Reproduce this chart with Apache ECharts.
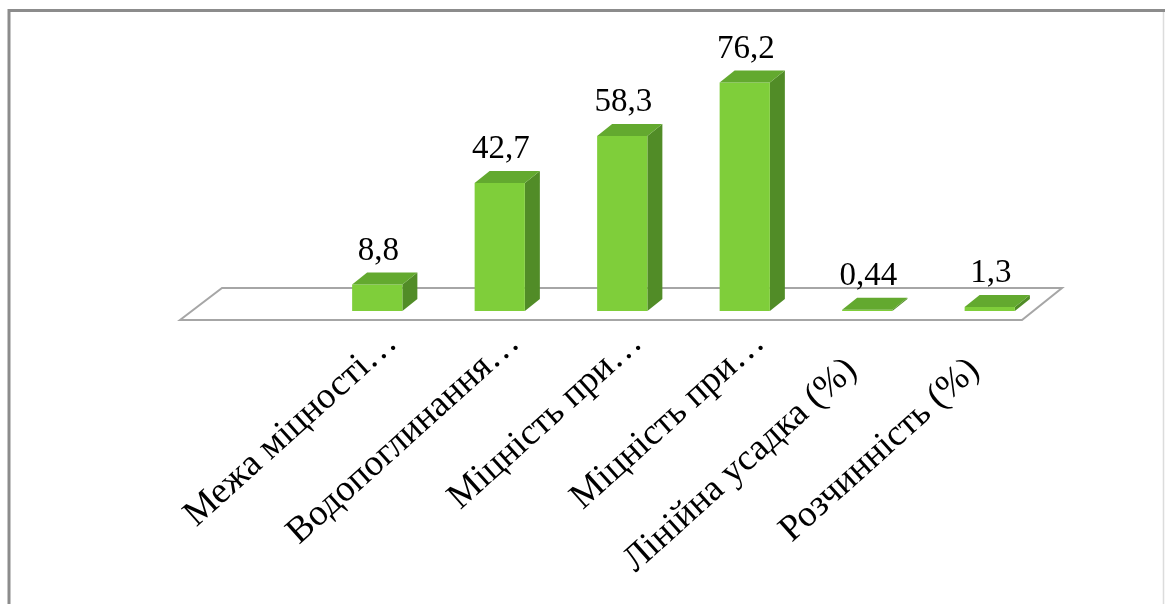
<!DOCTYPE html>
<html>
<head>
<meta charset="utf-8">
<script src="https://cdn.jsdelivr.net/npm/echarts@6/dist/echarts.min.js"></script>
<style>
  html, body { margin: 0; padding: 0; background: #fff; }
  #chart { width: 1165px; height: 604px; }
</style>
</head>
<body>
<div id="chart"></div>
<script>
// Category names as shown under the bars
const categories = [
  'Межа міцності…',
  'Водопоглинання…',
  'Міцність при…',
  'Міцність при…',
  'Лінійна усадка (%)',
  'Розчинність (%)'
];
// Values for each category
const values = [8.8, 42.7, 58.3, 76.2, 0.44, 1.3];

const FRONT = '#7fce3a';
const TOP = '#63a92f';
const SIDE = '#518c27';
const DEPTH_X = 15;
const DEPTH_Y = -12;

function fmt(v) {
  return String(v).replace('.', ',');
}

const chart = echarts.init(document.getElementById('chart'), null, { renderer: 'canvas' });

function renderBar(params, api) {
  const idx = api.value(0);
  const v = api.value(1);
  const base = api.coord([idx, 0]);
  const top = api.coord([idx, v]);
  const w = api.size([1, 0])[0] * 0.41;
  const cx = base[0];
  const x0 = cx - w / 2, x1 = cx + w / 2;
  const yb = base[1], yt = top[1];
  return {
    type: 'group',
    children: [
      {
        type: 'polygon',
        shape: { points: [[x1, yb], [x1 + DEPTH_X, yb + DEPTH_Y], [x1 + DEPTH_X, yt + DEPTH_Y], [x1, yt]] },
        style: { fill: SIDE }
      },
      {
        type: 'rect',
        shape: { x: x0, y: yt, width: w, height: yb - yt },
        style: { fill: FRONT }
      },
      {
        type: 'polygon',
        shape: { points: [[x0, yt], [x0 + DEPTH_X, yt + DEPTH_Y], [x1 + DEPTH_X, yt + DEPTH_Y], [x1, yt]] },
        style: { fill: TOP }
      },
      {
        type: 'text',
        style: {
          text: fmt(v),
          x: cx + 1,
          y: yt + DEPTH_Y - 5,
          align: 'center',
          verticalAlign: 'bottom',
          fontFamily: 'Liberation Serif',
          fontSize: 33,
          fill: '#000'
        }
      }
    ]
  };
}

// Full-length names sit a little lower along their slant than the shortened ones
const axisData = categories.map(c => ({
  value: c,
  textStyle: {
    align: 'right',
    verticalAlign: 'top',
    padding: c.endsWith('…') ? [4, 0, 0, 0] : [4, 41, 0, 0]
  }
}));

const option = {
  animation: false,
  backgroundColor: '#fff',
  grid: { left: 316, right: 114, top: 11, bottom: 293 },
  xAxis: {
    type: 'category',
    data: axisData,
    axisLine: { show: false },
    axisTick: { show: false },
    axisLabel: {
      interval: 0,
      rotate: 42,
      align: 'right',
      verticalAlign: 'top',
      margin: 10,
      fontFamily: 'Liberation Serif',
      fontSize: 37,
      color: '#000',
      hideOverlap: false
    }
  },
  yAxis: {
    type: 'value',
    min: 0,
    max: 100,
    show: false
  },
  graphic: [
    {
      // outer frame: top and left edges
      type: 'polyline',
      z: 0,
      shape: { points: [[9, 620], [9, 10.5], [1165, 10.5]] },
      style: { fill: 'none', stroke: '#8c8c8c', lineWidth: 3 }
    },
    {
      // outer frame: right edge
      type: 'line',
      z: 0,
      shape: { x1: 1163.5, y1: 12, x2: 1163.5, y2: 620 },
      style: { stroke: '#dcdcdc', lineWidth: 1.5 }
    },
    {
      // floor of the 3D plot
      type: 'polygon',
      z: 1,
      shape: { points: [[180, 320], [222, 288], [1062, 288], [1022, 320]] },
      style: { fill: '#fff', stroke: '#a6a6a6', lineWidth: 2 }
    }
  ],
  series: [{
    type: 'custom',
    z: 5,
    renderItem: renderBar,
    data: values.map((v, i) => [i, v])
  }]
};

chart.setOption(option);
</script>
</body>
</html>
